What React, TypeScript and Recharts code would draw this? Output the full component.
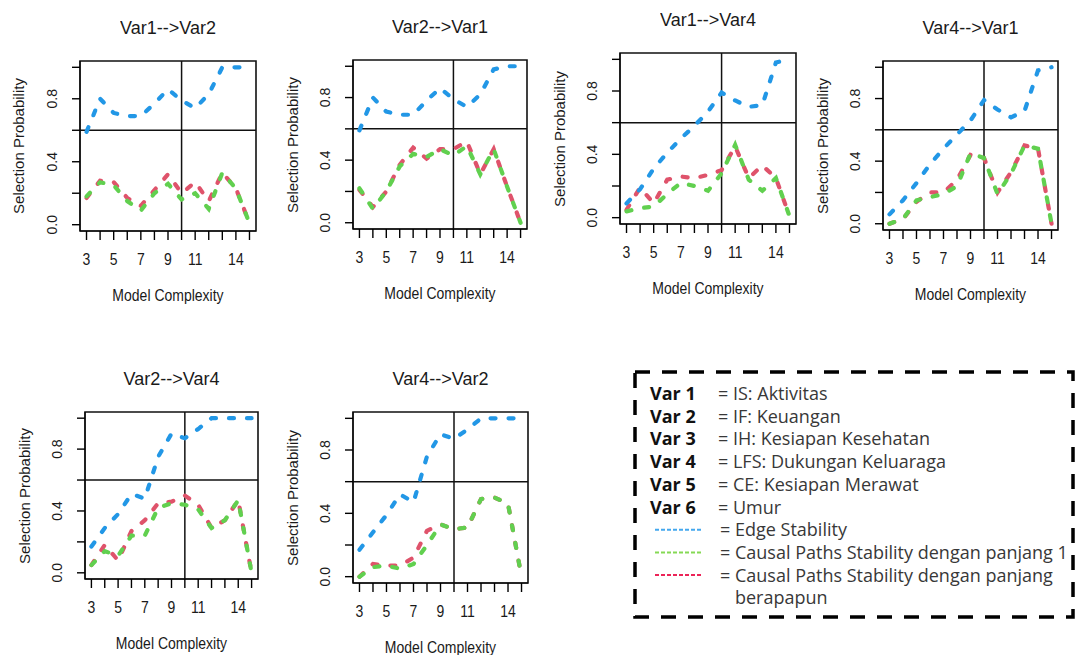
import { LineChart, Line, XAxis, YAxis, ReferenceLine, ReferenceArea } from "recharts";

const complexity = [3, 4, 5, 6, 7, 8, 9, 10, 11, 12, 13, 14, 15];
const xTickLabels = [3, 5, 7, 9, 11, 14];
const yTicks = [0, 0.2, 0.4, 0.6, 0.8, 1];
const yTickLabels = [0, 0.4, 0.8];

// Var1-->Var2
const edge12 = [0.59, 0.8, 0.71, 0.69, 0.69, 0.77, 0.86, 0.79, 0.74, 0.83, 1.0, 1.0, 1.0];
const len1_12 = [0.18, 0.27, 0.25, 0.15, 0.09, 0.2, 0.26, 0.16, 0.2, 0.1, 0.33, 0.23, 0.01];
const anyLen12 = [0.17, 0.28, 0.27, 0.17, 0.12, 0.22, 0.32, 0.2, 0.27, 0.15, 0.33, 0.23, 0.01];

// Var2-->Var1
const edge21 = [0.59, 0.8, 0.71, 0.69, 0.69, 0.78, 0.86, 0.79, 0.74, 0.82, 0.98, 1.0, 1.0];
const len1_21 = [0.22, 0.09, 0.2, 0.36, 0.44, 0.42, 0.47, 0.43, 0.49, 0.31, 0.47, 0.23, 0.0];
const anyLen21 = [0.21, 0.1, 0.2, 0.37, 0.48, 0.41, 0.47, 0.47, 0.52, 0.31, 0.47, 0.23, 0.0];

// Var1-->Var4
const edge14 = [0.09, 0.18, 0.31, 0.41, 0.5, 0.58, 0.67, 0.79, 0.74, 0.7, 0.71, 0.98, 1.0];
const len1_14 = [0.04, 0.06, 0.07, 0.15, 0.22, 0.2, 0.17, 0.28, 0.46, 0.24, 0.17, 0.25, 0.01];
const anyLen14 = [0.05, 0.19, 0.09, 0.24, 0.26, 0.25, 0.27, 0.3, 0.45, 0.25, 0.33, 0.25, 0.01];

// Var4-->Var1
const edge41 = [0.06, 0.15, 0.26, 0.38, 0.48, 0.57, 0.66, 0.79, 0.73, 0.68, 0.72, 0.98, 1.0];
const len1_41 = [0.0, 0.03, 0.15, 0.17, 0.19, 0.24, 0.45, 0.42, 0.19, 0.32, 0.5, 0.48, 0.0];
const anyLen41 = [0.0, 0.03, 0.14, 0.2, 0.2, 0.28, 0.44, 0.42, 0.2, 0.33, 0.5, 0.48, 0.0];

// Var2-->Var4
const edge24 = [0.17, 0.29, 0.38, 0.51, 0.48, 0.75, 0.9, 0.87, 0.93, 1.0, 1.0, 1.0, 1.0];
const len1_24 = [0.05, 0.14, 0.11, 0.24, 0.24, 0.42, 0.45, 0.44, 0.41, 0.29, 0.34, 0.47, 0.0];
const anyLen24 = [0.05, 0.18, 0.08, 0.27, 0.34, 0.45, 0.46, 0.5, 0.44, 0.29, 0.34, 0.47, 0.0];

// Var4-->Var2
const edge42 = [0.17, 0.28, 0.39, 0.52, 0.47, 0.76, 0.9, 0.87, 0.93, 1.0, 1.0, 1.0, 1.0];
const len1_42 = [0.0, 0.06, 0.07, 0.05, 0.08, 0.2, 0.33, 0.3, 0.31, 0.49, 0.5, 0.46, 0.0];
const anyLen42 = [0.0, 0.08, 0.07, 0.07, 0.12, 0.29, 0.33, 0.3, 0.31, 0.49, 0.5, 0.46, 0.0];

const legendVars = ["Var 1", "Var 2", "Var 3", "Var 4", "Var 5", "Var 6"];
const legendDesc = [
  "IS: Aktivitas",
  "IF: Keuangan",
  "IH: Kesiapan Kesehatan",
  "LFS: Dukungan Keluaraga",
  "CE: Kesiapan Merawat",
  "Umur",
];
const seriesNames = [
  "Edge Stability",
  "Causal Paths Stability dengan panjang 1",
  "Causal Paths Stability dengan panjang",
];

const BLUE = "#2297E6";
const GREEN = "#61D04F";
const RED = "#DF536B";
const LEGEND_COLORS = ["#44a8ee", "#85d954", "#ec2458"];
const FONT = "'Liberation Sans', Arial, sans-serif";
const X_DOMAIN = [2.52, 15.48];
const Y_DOMAIN = [-0.04, 1.04];

const panels = [
  { title: "Var1-->Var2", box: { x: 80, y: 61, w: 176, h: 170 }, edge: edge12, len1: len1_12, anyLen: anyLen12 },
  { title: "Var2-->Var1", box: { x: 353, y: 60, w: 174, h: 169 }, edge: edge21, len1: len1_21, anyLen: anyLen21 },
  { title: "Var1-->Var4", box: { x: 620, y: 53, w: 176, h: 171 }, edge: edge14, len1: len1_14, anyLen: anyLen14 },
  { title: "Var4-->Var1", box: { x: 883, y: 61, w: 175, h: 169 }, edge: edge41, len1: len1_41, anyLen: anyLen41 },
  { title: "Var2-->Var4", box: { x: 85, y: 412, w: 173, h: 167 }, edge: edge24, len1: len1_24, anyLen: anyLen24 },
  { title: "Var4-->Var2", box: { x: 353, y: 412, w: 175, h: 171 }, edge: edge42, len1: len1_42, anyLen: anyLen42 },
];

const XTick = (props: any) => {
  const { x, y, payload } = props;
  if (!xTickLabels.includes(payload.value)) return <g />;
  return (
    <text
      x={x}
      y={y + 18}
      textAnchor="middle"
      dominantBaseline="central"
      fontSize={14}
      fill="#1a1a1a"
      fontFamily={FONT}
      transform={`translate(0 ${y + 18}) scale(1 1.12) translate(0 ${-(y + 18)})`}
    >
      {payload.value}
    </text>
  );
};

const YTick = (props: any) => {
  const { x, y, payload } = props;
  if (!yTickLabels.includes(payload.value)) return <g />;
  const cx = x - 18;
  return (
    <text
      x={cx}
      y={y}
      transform={`rotate(-90 ${cx} ${y})`}
      textAnchor="middle"
      dominantBaseline="central"
      fontSize={14}
      fill="#1a1a1a"
      fontFamily={FONT}
    >
      {payload.value.toFixed(1)}
    </text>
  );
};

function Panel({ title, box, edge, len1, anyLen }: any) {
  const ML = 70;
  const MT = 45;
  const MR = 6;
  const MB = 80;
  const W = box.w + ML + MR;
  const H = box.h + MT + MB;
  const data = complexity.map((x, i) => ({ x, edge: edge[i], len1: len1[i], anyLen: anyLen[i] }));
  const lineProps = {
    type: "linear" as const,
    dot: false,
    activeDot: false,
    strokeWidth: 4.2,
    strokeDasharray: "5 13",
    strokeLinecap: "round" as const,
    isAnimationActive: false,
  };

  return (
    <div style={{ position: "absolute", left: box.x - ML, top: box.y - MT, width: W, height: H }}>
      <LineChart width={W} height={H} data={data} margin={{ top: MT, right: MR, bottom: 0, left: 0 }}>
        <XAxis
          type="number"
          dataKey="x"
          domain={X_DOMAIN}
          ticks={complexity}
          interval={0}
          height={MB}
          tickSize={9}
          tick={XTick}
          axisLine={{ stroke: "#000" }}
          tickLine={{ stroke: "#000", strokeWidth: 1.4 }}
          allowDataOverflow
        />
        <YAxis
          type="number"
          domain={Y_DOMAIN}
          ticks={yTicks}
          interval={0}
          width={ML}
          tickSize={8}
          tick={YTick}
          axisLine={{ stroke: "#000" }}
          tickLine={{ stroke: "#000", strokeWidth: 1.4 }}
          allowDataOverflow
        />
        <ReferenceArea
          x1={X_DOMAIN[0]}
          x2={X_DOMAIN[1]}
          y1={Y_DOMAIN[0]}
          y2={Y_DOMAIN[1]}
          fill="none"
          stroke="#111"
          strokeWidth={1.6}
          ifOverflow="visible"
        />
        <ReferenceLine x={10} stroke="#111" strokeWidth={1.5} />
        <ReferenceLine y={0.6} stroke="#111" strokeWidth={1.5} />
        <Line dataKey="anyLen" stroke={RED} {...lineProps} />
        <Line dataKey="len1" stroke={GREEN} {...lineProps} />
        <Line dataKey="edge" stroke={BLUE} {...lineProps} />
      </LineChart>
      <div
        style={{
          position: "absolute",
          left: ML,
          width: box.w,
          top: MT - 33 - 11,
          height: 22,
          lineHeight: "22px",
          textAlign: "center",
          fontFamily: FONT,
          fontSize: 18,
          color: "#1a1a1a",
          transform: "scaleY(1.05)",
        }}
      >
        {title}
      </div>
      <div
        style={{
          position: "absolute",
          left: ML - 61 - (box.h + 40) / 2,
          width: box.h + 40,
          top: MT + box.h / 2 - 9,
          height: 18,
          lineHeight: "18px",
          textAlign: "center",
          transform: "rotate(-90deg)",
          fontFamily: FONT,
          fontSize: 15,
          color: "#1a1a1a",
          whiteSpace: "nowrap",
        }}
      >
        Selection Probability
      </div>
      <div
        style={{
          position: "absolute",
          left: ML,
          width: box.w,
          top: MT + box.h + 64 - 9,
          height: 18,
          lineHeight: "18px",
          textAlign: "center",
          fontFamily: FONT,
          fontSize: 14,
          color: "#1a1a1a",
          whiteSpace: "nowrap",
          transform: "scaleY(1.12)",
        }}
      >
        Model Complexity
      </div>
    </div>
  );
}

function LegendBox() {
  const rowY = (i: number) => 28.5 + i * 22.7 + 6.5;
  return (
    <svg
      width={450}
      height={262}
      style={{ position: "absolute", left: 630, top: 365 }}
      fontFamily="'Open Sans', sans-serif"
      fontSize={18}
    >
      <rect x={5} y={7} width={438} height={245} fill="none" stroke="#000" strokeWidth={3.5} strokeDasharray="15 12" />
      {legendVars.map((v, i) => (
        <g key={v}>
          <text x={20} y={rowY(i)} fontWeight="bold" fill="#111">
            {v}
          </text>
          <text x={88} y={rowY(i)} fill="#383838">
            = {legendDesc[i]}
          </text>
        </g>
      ))}
      {seriesNames.map((s, i) => {
        const r = i + 6;
        return (
          <g key={s}>
            <line
              x1={25}
              x2={73}
              y1={rowY(r) - 6.5}
              y2={rowY(r) - 6.5}
              stroke={LEGEND_COLORS[i]}
              strokeWidth={2}
              strokeDasharray="4 2"
            />
            <text x={90} y={rowY(r)} fill="#383838">
              = {s}
            </text>
          </g>
        );
      })}
      <text x={105} y={rowY(9)} fill="#383838">
        berapapun
      </text>
    </svg>
  );
}

export default function App() {
  return (
    <div style={{ position: "absolute", left: 0, top: 0, width: 1083, height: 655, background: "#fff", overflow: "hidden" }}>
      {panels.map((p) => (
        <Panel key={p.title} {...p} />
      ))}
      <LegendBox />
    </div>
  );
}
